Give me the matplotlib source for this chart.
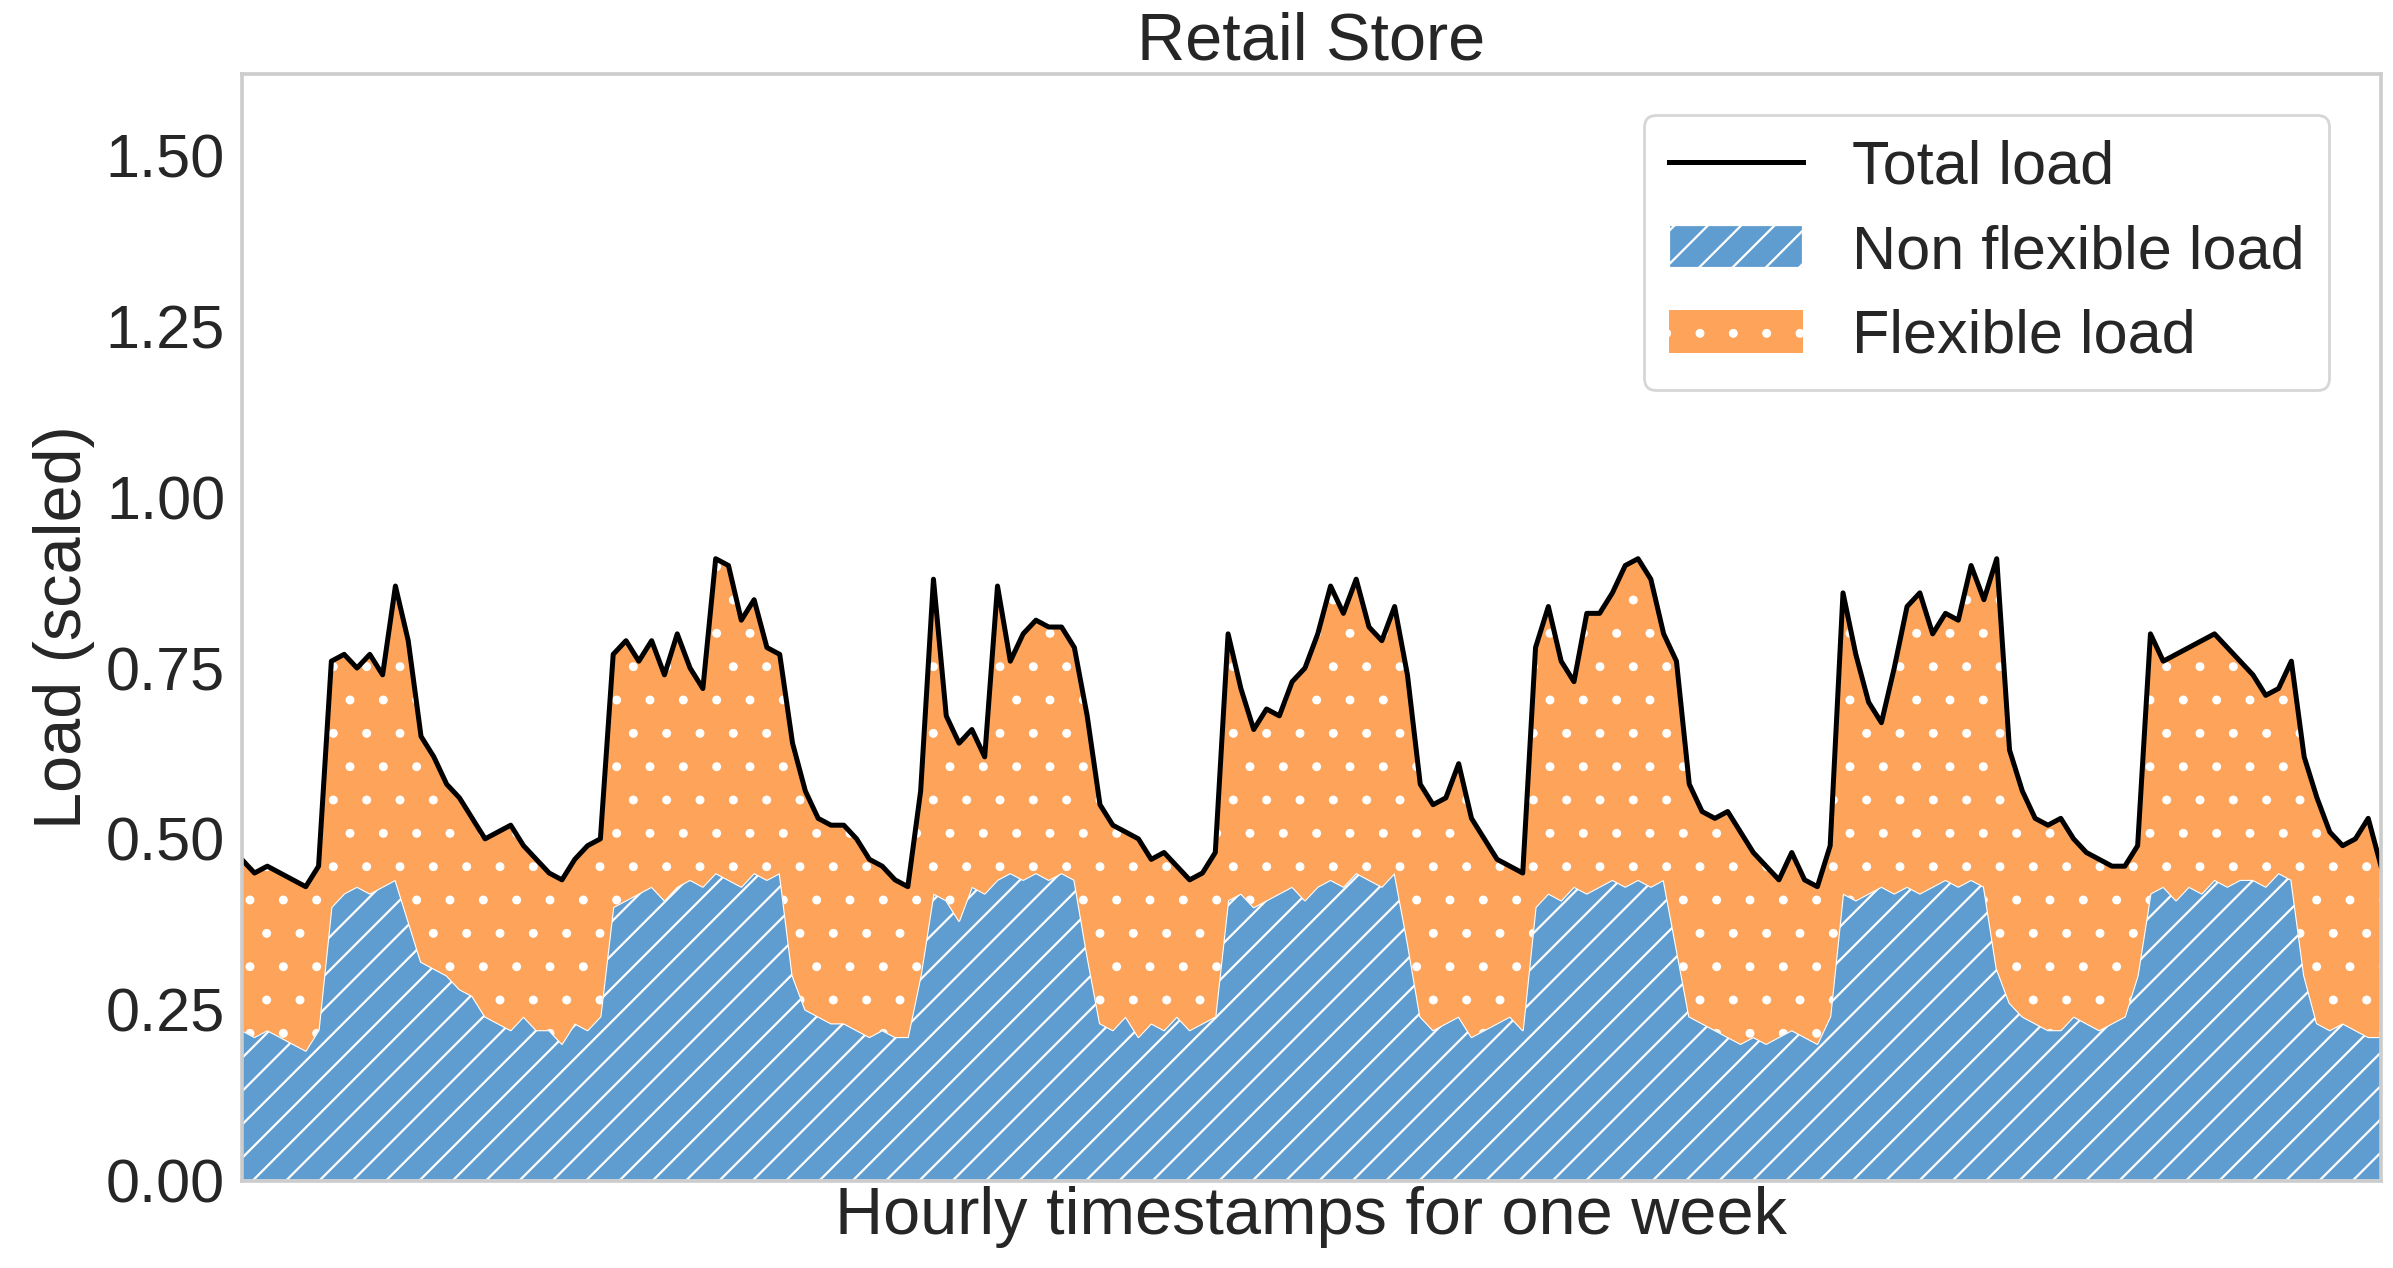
import numpy as np
import matplotlib.pyplot as plt

# hourly values for one week (168 h)
total_load = [
    0.47, 0.45, 0.46, 0.45, 0.44, 0.43, 0.46,
    0.76, 0.77, 0.75, 0.77, 0.74, 0.87, 0.79, 0.65, 0.62, 0.58, 0.56, 0.53, 0.50, 0.51, 0.52, 0.49, 0.47,
    0.45, 0.44, 0.47, 0.49, 0.50,
    0.77, 0.79, 0.76, 0.79, 0.74, 0.80, 0.75, 0.72, 0.91, 0.90, 0.82, 0.85, 0.78, 0.77, 0.64, 0.57, 0.53, 0.52, 0.52, 0.50, 0.47, 0.46, 0.44, 0.43,
    0.57, 0.88, 0.68, 0.64, 0.66, 0.62, 0.87, 0.76, 0.80, 0.82, 0.81, 0.81, 0.78, 0.68, 0.55, 0.52, 0.51, 0.50, 0.47, 0.48, 0.46, 0.44, 0.45, 0.48,
    0.80, 0.72, 0.66, 0.69, 0.68, 0.73, 0.75, 0.80, 0.87, 0.83, 0.88, 0.81, 0.79, 0.84, 0.74, 0.58, 0.55, 0.56, 0.61, 0.53, 0.50, 0.47, 0.46, 0.45,
    0.78, 0.84, 0.76, 0.73, 0.83, 0.83, 0.86, 0.90, 0.91, 0.88, 0.80, 0.76, 0.58, 0.54, 0.53, 0.54, 0.51, 0.48, 0.46, 0.44, 0.48, 0.44, 0.43, 0.49,
    0.86, 0.77, 0.70, 0.67, 0.75, 0.84, 0.86, 0.80, 0.83, 0.82, 0.90, 0.85, 0.91, 0.63, 0.57, 0.53, 0.52, 0.53, 0.50, 0.48, 0.47, 0.46, 0.46, 0.49,
    0.80, 0.76, 0.77, 0.78, 0.79, 0.80, 0.78, 0.76, 0.74, 0.71, 0.72, 0.76, 0.62, 0.56, 0.51, 0.49, 0.50, 0.53, 0.46,
]
non_flexible = [
    0.22, 0.21, 0.22, 0.21, 0.20, 0.19, 0.22,
    0.40, 0.42, 0.43, 0.42, 0.43, 0.44, 0.38, 0.32, 0.31, 0.30, 0.28, 0.27, 0.24, 0.23, 0.22, 0.24, 0.22,
    0.22, 0.20, 0.23, 0.22, 0.24,
    0.40, 0.41, 0.42, 0.43, 0.41, 0.43, 0.44, 0.43, 0.45, 0.44, 0.43, 0.45, 0.44, 0.45, 0.30, 0.25, 0.24, 0.23, 0.23, 0.22, 0.21, 0.22, 0.21, 0.21,
    0.30, 0.42, 0.41, 0.38, 0.43, 0.42, 0.44, 0.45, 0.44, 0.45, 0.44, 0.45, 0.44, 0.33, 0.23, 0.22, 0.24, 0.21, 0.23, 0.22, 0.24, 0.22, 0.23, 0.24,
    0.41, 0.42, 0.40, 0.41, 0.42, 0.43, 0.41, 0.43, 0.44, 0.43, 0.45, 0.44, 0.43, 0.45, 0.35, 0.24, 0.22, 0.23, 0.24, 0.21, 0.22, 0.23, 0.24, 0.22,
    0.40, 0.42, 0.41, 0.43, 0.42, 0.43, 0.44, 0.43, 0.44, 0.43, 0.44, 0.34, 0.24, 0.23, 0.22, 0.21, 0.20, 0.21, 0.20, 0.21, 0.22, 0.21, 0.20, 0.24,
    0.42, 0.41, 0.42, 0.43, 0.42, 0.43, 0.42, 0.43, 0.44, 0.43, 0.44, 0.43, 0.31, 0.26, 0.24, 0.23, 0.22, 0.22, 0.24, 0.23, 0.22, 0.23, 0.24, 0.30,
    0.42, 0.43, 0.41, 0.43, 0.42, 0.44, 0.43, 0.44, 0.44, 0.43, 0.45, 0.44, 0.30, 0.23, 0.22, 0.23, 0.22, 0.21, 0.21,
]

hours = np.arange(len(total_load))
total = np.asarray(total_load)
nonflex = np.asarray(non_flexible)

plt.rcParams['font.family'] = ['Liberation Sans', 'DejaVu Sans']
plt.rcParams['hatch.color'] = 'white'
plt.rcParams['hatch.linewidth'] = 0.8

fig = plt.figure(figsize=(11.965, 6.34), dpi=200)
ax = fig.add_axes([0.101, 0.069, 0.894, 0.873])

ax.fill_between(hours, 0, nonflex, facecolor='#5f9ccf', edgecolor='white', hatch='//',
                linewidth=0.8, label='Non flexible load')
ax.fill_between(hours, nonflex, total, facecolor='#fda45a', edgecolor='white', hatch='.',
                linewidth=0, label='Flexible load')
ax.plot(hours, total, color='black', linewidth=1.8, label='Total load')

ax.set_xlim(0, hours[-1])
ax.set_ylim(0, 1.62)
ax.set_xticks([])
ax.set_yticks([0, 0.25, 0.5, 0.75, 1.0, 1.25, 1.5])
ax.set_yticklabels(['0.00', '0.25', '0.50', '0.75', '1.00', '1.25', '1.50'])
ax.tick_params(axis='y', labelsize=22, length=0, pad=6, colors='#262626')
for s in ax.spines.values():
    s.set_color('#cccccc')
    s.set_linewidth(1.3)

ax.set_title('Retail Store', fontsize=24, color='#262626', pad=3)
ax.set_xlabel('Hourly timestamps for one week', fontsize=24, color='#262626', labelpad=2)
ax.set_ylabel('Load (scaled)', fontsize=24, color='#262626', labelpad=4)

h, l = ax.get_legend_handles_labels()
order = [2, 0, 1]
leg = ax.legend([h[i] for i in order], [l[i] for i in order], loc='upper right',
                fontsize=22, frameon=True, borderpad=0.4, handlelength=2.2,
                bbox_to_anchor=(0.99, 0.99), labelspacing=0.45)
leg.get_frame().set_edgecolor('#cccccc')
leg.get_frame().set_linewidth(1)
for t in leg.get_texts():
    t.set_color('#262626')

fig.savefig('out.png', dpi=200)
